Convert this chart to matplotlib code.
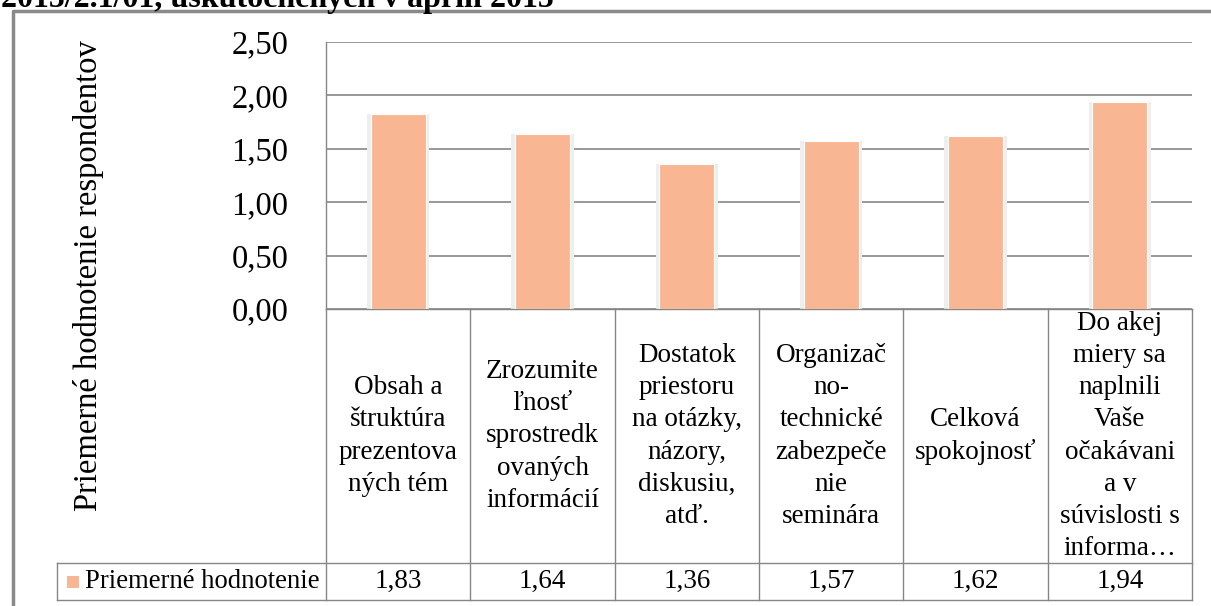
import matplotlib
matplotlib.use("Agg")
import matplotlib.pyplot as plt
from matplotlib.lines import Line2D
from matplotlib.patches import Rectangle
from matplotlib.transforms import blended_transform_factory

plt.rcParams['font.family'] = ['Liberation Serif', 'DejaVu Serif']

# data
categories = [
    "Obsah a\nštruktúra\nprezentova\nných tém",
    "Zrozumite\nľnosť\nsprostredk\novaných\ninformácií",
    "Dostatok\npriestoru\nna otázky,\nnázory,\ndiskusiu,\natď.",
    "Organizač\nno-\ntechnické\nzabezpeče\nnie\nseminára",
    "Celková\nspokojnosť",
    "Do akej\nmiery sa\nnaplnili\nVaše\nočakávani\na v\nsúvislosti s\ninforma…",
]
values = [1.83, 1.64, 1.36, 1.57, 1.62, 1.94]
series_name = "Priemerné hodnotenie"
y_label = "Priemerné hodnotenie respondentov"
y_ticks = [0, 0.5, 1.0, 1.5, 2.0, 2.5]
title_text = "2015/2.1/01, uskutočnených v apríli 2015"

W, H = 1211, 606
bar_color = "#F8B692"
line_color = "#868686"

def fy(py):  # pixel row (from top) -> figure fraction
    return (H - py) / H

fig = plt.figure(figsize=(W / 100, H / 100), dpi=100)
ax = fig.add_axes([326 / W, fy(309), (1192 - 326) / W, (309 - 42) / H])

xs = list(range(len(values)))
ax.bar(xs, values, width=0.43, color="#eeeeee", zorder=2)
ax.bar(xs, values, width=0.38, color=bar_color, edgecolor="white", linewidth=0.8, zorder=3)

ax.set_xlim(-0.5, len(values) - 0.5)
ax.set_ylim(0, 2.5)
ax.set_yticks(y_ticks)
ax.set_yticklabels([f"{t:.2f}".replace(".", ",") for t in y_ticks], fontsize=23.5)
ax.tick_params(axis="y", length=0, pad=27)
ax.set_xticks([])
ax.yaxis.grid(True, color=line_color, linewidth=1.2, zorder=1)
ax.set_axisbelow(True)
for s in ["top", "right"]:
    ax.spines[s].set_visible(False)
for s in ["left", "bottom"]:
    ax.spines[s].set_color(line_color)
    ax.spines[s].set_linewidth(1.0)

ax.set_ylabel(y_label, fontsize=23.5, labelpad=0)
ax.yaxis.set_label_coords((104 - 326) / (1192 - 326), (309 - 276) / (309 - 42))

# data table under the plot
tr = blended_transform_factory(ax.transData, fig.transFigure)
y_top, y_mid, y_bot = fy(309), fy(563), fy(600)
n = len(values)
for i in range(n + 1):
    fig.add_artist(Line2D([i - 0.5, i - 0.5], [y_bot, y_top], transform=tr,
                          color=line_color, linewidth=1.0))
for yy in (y_mid, y_bot):
    fig.add_artist(Line2D([57 / W, 1192 / W], [yy, yy], transform=fig.transFigure,
                          color=line_color, linewidth=1.0))
fig.add_artist(Line2D([57 / W, 57 / W], [y_bot, y_mid], transform=fig.transFigure,
                      color=line_color, linewidth=1.0))

for i, (c, v) in enumerate(zip(categories, values)):
    fig.text(i, (y_top + y_mid) / 2, c, transform=tr, ha="center", va="center",
             fontsize=19.5, linespacing=1.37, multialignment="center")
    fig.text(i, (y_mid + y_bot) / 2, f"{v:.2f}".replace(".", ","), transform=tr,
             ha="center", va="center", fontsize=19.5)

fig.add_artist(Rectangle((67 / W, fy(588)), 12 / W, 12 / H, transform=fig.transFigure,
                         facecolor=bar_color, edgecolor="none"))
fig.text(85 / W, (y_mid + y_bot) / 2, series_name, ha="left", va="center", fontsize=19.2)

# chart frame and cut-off caption above
fig.add_artist(Line2D([12.5 / W, 12.5 / W, 1.02], [-0.02, fy(11), fy(11)],
                      transform=fig.transFigure, color="#8a8a8a", linewidth=2.5))
fig.text(1 / W, fy(7), title_text, ha="left", va="baseline", fontsize=23,
         fontweight="bold")

fig.savefig("out.png", dpi=100)
